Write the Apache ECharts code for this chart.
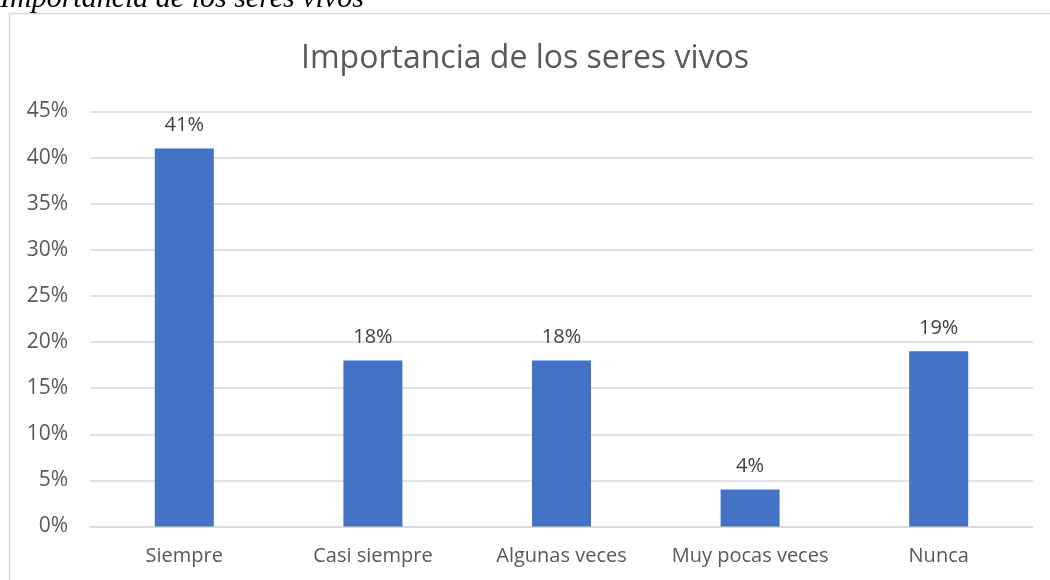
<!DOCTYPE html>
<html>
<head>
<meta charset="utf-8">
<script src="https://cdn.jsdelivr.net/npm/echarts@6/dist/echarts.min.js"></script>
<style>
  html, body { margin: 0; padding: 0; background: #fff; }
  #container-chart { width: 1050px; height: 580px; }
</style>
</head>
<body>
<div id="container-chart"></div>
<script>
const categories = ['Siempre', 'Casi siempre', 'Algunas veces', 'Muy pocas veces', 'Nunca'];
const percentValues = [41, 18, 18, 4, 19];
const yTicks = [0, 5, 10, 15, 20, 25, 30, 35, 40, 45];

let chartDom = document.getElementById('container-chart');
let myChart = echarts.init(chartDom);
let option = {
  backgroundColor: '#ffffff',
  textStyle: { fontFamily: '"Open Sans", sans-serif' },
  title: [
    {
      text: 'Importancia de los seres vivos',
      left: 'center',
      top: 38,
      textStyle: { fontSize: 32, fontWeight: 'normal', color: '#595959', fontFamily: '"Open Sans", sans-serif' }
    },
    {
      text: 'Importancia de los seres vivos',
      left: -5,
      top: -21,
      textStyle: { fontSize: 30, fontWeight: 'normal', fontStyle: 'italic', color: '#000', fontFamily: '"Liberation Serif", serif' }
    }
  ],
  graphic: [
    {
      type: 'rect',
      shape: { x: 9.5, y: 13.5, width: 1100, height: 600 },
      style: { fill: 'none', stroke: '#d9d9d9', lineWidth: 1.5 },
      z: -1
    }
  ],
  grid: { left: 90, right: 17, top: 111.5, bottom: 53.5 },
  xAxis: {
    type: 'category',
    data: categories,
    axisLine: { lineStyle: { color: '#d9d9d9', width: 1.5 } },
    axisTick: { show: false },
    axisLabel: { interval: 0, hideOverlap: false, fontSize: 20, color: '#595959', margin: 20, fontFamily: '"Open Sans", sans-serif' }
  },
  yAxis: {
    type: 'value',
    min: 0,
    max: 45,
    interval: 5,
    axisLine: { show: false },
    axisTick: { show: false },
    splitLine: { lineStyle: { color: '#d9d9d9', width: 1.5 } },
    axisLabel: {
      fontSize: 21, color: '#595959', margin: 22, fontFamily: '"Open Sans", sans-serif',
      formatter: v => (yTicks.includes(v) ? v + '%' : '')
    }
  },
  series: [
    {
      type: 'bar',
      data: percentValues,
      barWidth: 59,
      itemStyle: { color: '#4472C4' },
      label: {
        show: true,
        position: 'top',
        distance: 13,
        fontSize: 20,
        color: '#404040',
        fontFamily: '"Open Sans", sans-serif',
        formatter: p => p.value + '%'
      }
    }
  ]
};
option && myChart.setOption(option);
</script>
</body>
</html>
